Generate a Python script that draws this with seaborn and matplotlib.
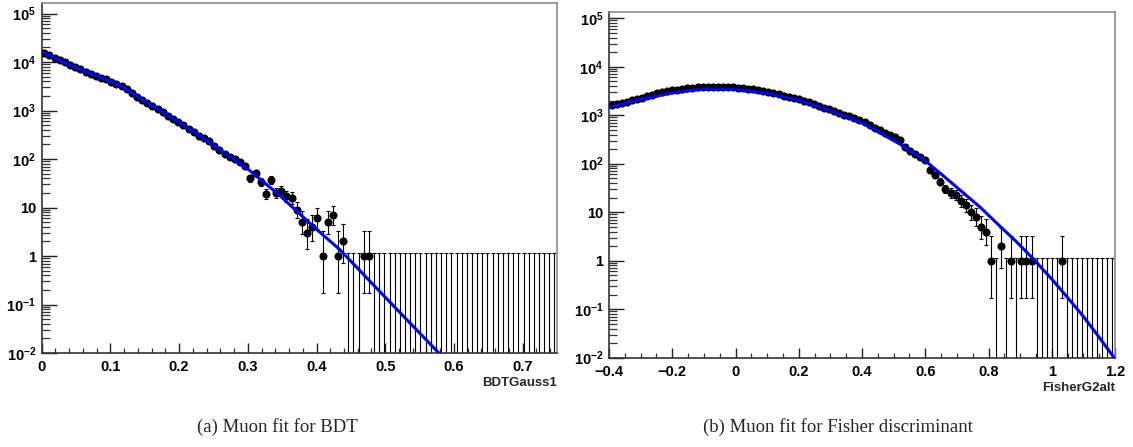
import numpy as np
import matplotlib
matplotlib.use("Agg")
import matplotlib.pyplot as plt
import matplotlib.ticker as mticker
import seaborn as sns

# ----- data -----
# left: BDTGauss1, 100 bins on [0, 0.75]
bdt_range = (0.0, 0.75)
bdt_counts = [15500, 13800, 12300, 11000, 9800, 8500, 7760, 7080, 6300, 5750,
              5250, 4790, 4370, 3890, 3550, 3160, 2750, 2290, 1900, 1660,
              1420, 1230, 1070, 910, 780, 680, 575, 505, 420, 365,
              305, 275, 232, 186, 150, 125, 110, 98, 85, 72,
              40, 52, 33, 19, 37, 20, 22, 17, 16, 9,
              5, 3, 4, 6, 1, 5, 7, 1, 2, 0,
              0, 0, 1, 1] + [0] * 36
bdt_fit_x = [0.0, 0.045, 0.07, 0.093, 0.117, 0.141, 0.165, 0.189, 0.211, 0.236,
             0.26, 0.284, 0.303, 0.347, 0.40, 0.434, 0.50, 0.578, 0.60]
bdt_fit_log = [4.20, 3.91, 3.77, 3.64, 3.49, 3.27, 3.06, 2.85, 2.65, 2.42,
               2.18, 1.95, 1.76, 1.24, 0.55, 0.13, -0.85, -2.0, -2.33]

# right: FisherG2alt, 100 bins on [-0.4, 1.2]
fisher_range = (-0.4, 1.2)
fisher_counts = [1585, 1700, 1800, 1905, 2020, 2140, 2290, 2480, 2660, 2820,
                 2950, 3090, 3240, 3350, 3470, 3590, 3670, 3760, 3850, 3890,
                 3890, 3870, 3850, 3800, 3760, 3670, 3590, 3470, 3390, 3270,
                 3160, 3020, 2850, 2690, 2510, 2370, 2240, 2110, 2000, 1840,
                 1700, 1550, 1430, 1320, 1200, 1110, 1020, 945, 860, 785,
                 710, 630, 550, 485, 436, 389, 347, 309, 219, 186,
                 162, 138, 117, 74, 58, 42, 30, 25, 23, 17,
                 14, 10, 8, 5, 4, 1, 0, 2, 0, 1,
                 0, 1, 1, 1, 0, 0, 0, 0, 0, 1] + [0] * 10
fisher_fit_x = [-0.4, -0.3, -0.2, -0.1, 0.0, 0.1, 0.2, 0.3, 0.4, 0.45,
                0.521, 0.55, 0.6, 0.668, 0.72, 0.774, 0.83, 0.89, 0.947, 1.0,
                1.05, 1.10, 1.15, 1.195, 1.21]
fisher_fit_log = [3.16, 3.33, 3.46, 3.54, 3.53, 3.45, 3.31, 3.09, 2.84, 2.66,
                  2.40, 2.27, 2.06, 1.69, 1.40, 1.10, 0.75, 0.38, 0.0, -0.38,
                  -0.76, -1.15, -1.58, -1.98, -2.12]

empty_upper = 1.15  # height of the error bar drawn on empty bins

panels = [
    dict(counts=bdt_counts, rng=bdt_range, fit_x=bdt_fit_x, fit_log=bdt_fit_log,
         xlabel="BDTGauss1", caption="(a) Muon fit for BDT",
         major=np.arange(0, 0.71, 0.1), minor=0.02,
         ticklabels=["0", "0.1", "0.2", "0.3", "0.4", "0.5", "0.6", "0.7"],
         box=[41.7, 3, 557, 353], label_y=383, cap_x=277),
    dict(counts=fisher_counts, rng=fisher_range, fit_x=fisher_fit_x, fit_log=fisher_fit_log,
         xlabel="FisherG2alt", caption="(b) Muon fit for Fisher discriminant",
         major=np.arange(-0.4, 1.21, 0.2), minor=0.05,
         ticklabels=["\u22120.4", "\u22120.2", "0", "0.2", "0.4", "0.6", "0.8", "1", "1.2"],
         box=[609, 11.7, 1115, 357.7], label_y=388, cap_x=838),
]


def poisson_interval(n, alpha=0.158655):
    # Garwood interval by bisection on the Poisson cdf
    if n == 0:
        return 0.0, empty_upper
    if n > 50:
        return n - np.sqrt(n), n + np.sqrt(n)

    def cdf(k, mu):
        term, s = np.exp(-mu), np.exp(-mu)
        for j in range(1, k + 1):
            term *= mu / j
            s += term
        return s

    lo, hi = n, n + 10 * np.sqrt(n) + 10
    for _ in range(60):
        mid = 0.5 * (lo + hi)
        if cdf(n, mid) > alpha:
            lo = mid
        else:
            hi = mid
    up = 0.5 * (lo + hi)
    lo, hi = 0.0, float(n)
    for _ in range(60):
        mid = 0.5 * (lo + hi)
        if 1 - cdf(n - 1, mid) < alpha:
            lo = mid
        else:
            hi = mid
    return 0.5 * (lo + hi), up


sns.set_style("ticks")
plt.rcParams["font.family"] = ["Liberation Sans", "DejaVu Sans"]
plt.rcParams["mathtext.fontset"] = "custom"
plt.rcParams["mathtext.rm"] = "Liberation Sans:bold"
plt.rcParams["mathtext.bf"] = "Liberation Sans:bold"
plt.rcParams["mathtext.default"] = "bf"

W, H = 1133, 447
fig = plt.figure(figsize=(W / 100, H / 100), dpi=100)

ylabels = [r"$10^{-2}$", r"$10^{-1}$", "1", "10", r"$10^{2}$", r"$10^{3}$", r"$10^{4}$", r"$10^{5}$"]

for p in panels:
    x0, y0, x1, y1 = p["box"]
    ax = fig.add_axes([x0 / W, 1 - y1 / H, (x1 - x0) / W, (y1 - y0) / H])
    ymax = 10 ** ((y1 - y0) / 48.5 - 2)

    counts = np.array(p["counts"], dtype=float)
    edges = np.linspace(p["rng"][0], p["rng"][1], len(counts) + 1)
    centers = 0.5 * (edges[:-1] + edges[1:])

    lows, ups = zip(*[poisson_interval(int(n)) for n in counts])
    lows, ups = np.array(lows), np.array(ups)
    ax.errorbar(centers, counts, yerr=[counts - lows, ups - counts], fmt="none",
                ecolor="black", elinewidth=0.8, capsize=1.6, capthick=0.8, zorder=2)

    filled = counts > 0
    sns.scatterplot(x=centers[filled], y=counts[filled], ax=ax, color="black",
                    s=34, linewidth=0, zorder=3)

    sns.lineplot(x=p["fit_x"], y=10 ** np.array(p["fit_log"]), ax=ax, color="blue",
                 linewidth=2.2, sort=False, zorder=4)

    ax.set_yscale("log")
    ax.set_ylim(1e-2, ymax)
    ax.set_xlim(*p["rng"])

    ax.set_yticks([10.0 ** k for k in range(-2, 6)])
    ax.set_yticklabels(ylabels)
    ax.yaxis.set_minor_locator(mticker.LogLocator(base=10, subs=np.arange(2, 10), numticks=20))
    ax.yaxis.set_minor_formatter(mticker.NullFormatter())
    ax.set_xticks(p["major"])
    ax.set_xticklabels(p["ticklabels"])
    ax.xaxis.set_minor_locator(mticker.MultipleLocator(p["minor"]))

    ax.tick_params(axis="y", which="major", direction="in", length=11, width=1,
                   labelsize=10.5, pad=4, colors="#222222")
    ax.tick_params(axis="y", which="minor", direction="in", length=5.5, width=0.9, colors="#333333")
    ax.tick_params(axis="x", which="major", direction="in", length=7.5, width=1,
                   labelsize=10.5, pad=5, colors="#222222")
    ax.tick_params(axis="x", which="minor", direction="in", length=3.8, width=0.9, colors="#333333")
    for lab in ax.get_xticklabels() + ax.get_yticklabels():
        lab.set_fontweight("bold")
        lab.set_color("black")

    for side in ["left", "bottom"]:
        ax.spines[side].set_color("#333333")
        ax.spines[side].set_linewidth(1.2)
    for side in ["top", "right"]:
        ax.spines[side].set_visible(True)
        ax.spines[side].set_color("#8c8c8c")
        ax.spines[side].set_linewidth(1.2)

    ax.set_xlabel(None)
    ax.set_ylabel(None)
    if ax.get_legend():
        ax.get_legend().remove()

    fig.text(x1 / W, 1 - p["label_y"] / H, p["xlabel"], ha="right", va="center",
             fontsize=9.5, fontweight="bold")
    fig.text(p["cap_x"] / W, 1 - 427 / H, p["caption"], ha="center", va="center",
             fontsize=13.5, family=["Liberation Serif", "DejaVu Serif"])

fig.savefig("out.png", dpi=100)
